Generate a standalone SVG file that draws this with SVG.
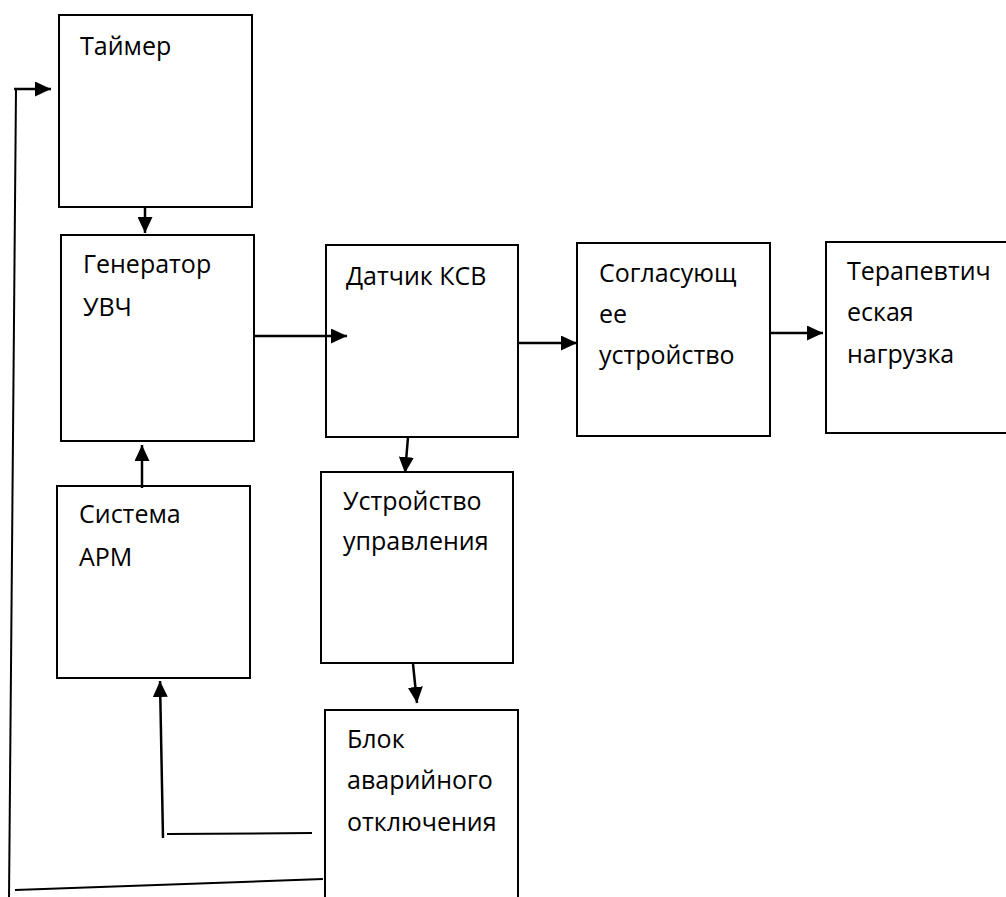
<svg xmlns="http://www.w3.org/2000/svg" width="1006" height="897" viewBox="0 0 1006 897">
<style>
.box{fill:#fff;stroke:#000;stroke-width:2}
.lbl{font-family:"Open Sans","Noto Sans",sans-serif;font-size:25px;fill:#000}
.con{fill:none;stroke:#000;stroke-width:2.5}
.thin{fill:none;stroke:#000;stroke-width:2}
</style>
<defs>
<marker id="ah" markerUnits="userSpaceOnUse" markerWidth="16" markerHeight="15" refX="16" refY="7.5" orient="auto">
<path d="M0,0 L16,7.5 L0,15 z" fill="#000"/>
</marker>
</defs>
<rect width="1006" height="897" fill="#fff"/>
<g id="timer"><rect class="box" x="59" y="15" width="193" height="192"/><text class="lbl" x="80" y="55">Таймер</text></g>
<g id="generator"><rect class="box" x="61" y="235" width="193" height="206"/><text class="lbl" x="83" y="273">Генератор</text><text class="lbl" x="83" y="316">УВЧ</text></g>
<g id="datchik"><rect class="box" x="326" y="245" width="192" height="192"/><text class="lbl" x="346" y="285">Датчик КСВ</text></g>
<g id="soglas"><rect class="box" x="577" y="243" width="193" height="193"/><text class="lbl" x="599" y="282">Согласующ</text><text class="lbl" x="599" y="323">ее</text><text class="lbl" x="599" y="364">устройство</text></g>
<g id="terap"><rect class="box" x="826" y="242" width="182" height="191"/><text class="lbl" x="847" y="280">Терапевтич</text><text class="lbl" x="847" y="321">еская</text><text class="lbl" x="847" y="363">нагрузка</text></g>
<g id="sistema"><rect class="box" x="57" y="486" width="193" height="192"/><text class="lbl" x="79" y="523">Система</text><text class="lbl" x="79" y="566">АРМ</text></g>
<g id="ustr"><rect class="box" x="321" y="472" width="192" height="191"/><text class="lbl" x="343" y="510">Устройство</text><text class="lbl" x="343" y="550">управления</text></g>
<g id="blok"><rect class="box" x="325" y="710" width="193" height="200"/><text class="lbl" x="347" y="748">Блок</text><text class="lbl" x="347" y="789">аварийного</text><text class="lbl" x="347" y="831">отключения</text></g>
<g id="connectors">
<line class="con" x1="145" y1="207" x2="145" y2="233" marker-end="url(#ah)"/>
<line class="con" x1="254" y1="336" x2="347" y2="336" marker-end="url(#ah)"/>
<line class="con" x1="518" y1="343" x2="577" y2="343" marker-end="url(#ah)"/>
<line class="con" x1="770" y1="333" x2="823" y2="333" marker-end="url(#ah)"/>
<line class="con" x1="142" y1="488" x2="142" y2="445" marker-end="url(#ah)"/>
<line class="con" x1="408" y1="437" x2="405" y2="473" marker-end="url(#ah)"/>
<line class="con" x1="413" y1="664" x2="417" y2="703" marker-end="url(#ah)"/>
<line class="thin" x1="167" y1="834" x2="312" y2="833"/>
<line class="con" x1="163" y1="838" x2="160" y2="681" marker-end="url(#ah)"/>
<line class="thin" x1="9" y1="900" x2="16" y2="89"/>
<line class="con" x1="14" y1="89" x2="51" y2="89" marker-end="url(#ah)"/>
<line class="thin" x1="15" y1="890" x2="323" y2="879"/>
</g>
</svg>
